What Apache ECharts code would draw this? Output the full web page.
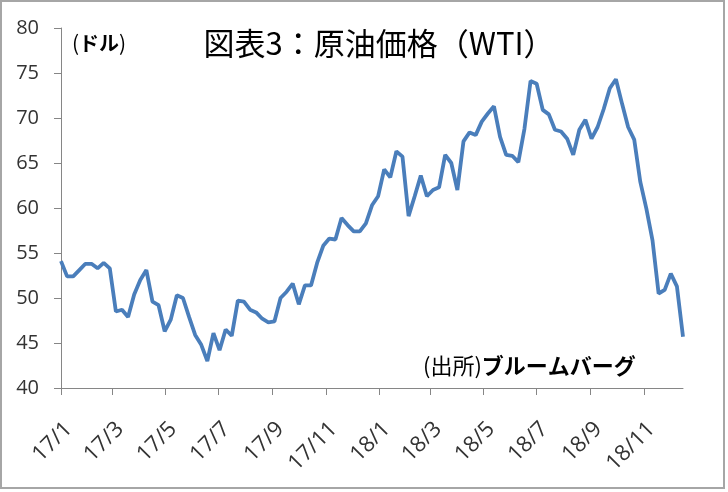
<!DOCTYPE html>
<html>
<head>
<meta charset="utf-8">
<script src="https://cdn.jsdelivr.net/npm/echarts@6/dist/echarts.min.js"></script>
<style>
html,body{margin:0;padding:0;background:#fff;}
#c{width:728px;height:492px;}
</style>
</head>
<body>
<div id="c"></div>
<script>
// Weekly dates (Fridays)
var dates = [
'2017-01-06','2017-01-13','2017-01-20','2017-01-27','2017-02-03','2017-02-10','2017-02-17','2017-02-24',
'2017-03-03','2017-03-10','2017-03-17','2017-03-24','2017-03-31','2017-04-07','2017-04-14','2017-04-21','2017-04-28',
'2017-05-05','2017-05-12','2017-05-19','2017-05-26','2017-06-02','2017-06-09','2017-06-16','2017-06-23','2017-06-30',
'2017-07-07','2017-07-14','2017-07-21','2017-07-28','2017-08-04','2017-08-11','2017-08-18','2017-08-25',
'2017-09-01','2017-09-08','2017-09-15','2017-09-22','2017-09-29','2017-10-06','2017-10-13','2017-10-20','2017-10-27',
'2017-11-03','2017-11-10','2017-11-17','2017-11-24','2017-12-01','2017-12-08','2017-12-15','2017-12-22','2017-12-29',
'2018-01-05','2018-01-12','2018-01-19','2018-01-26','2018-02-02','2018-02-09','2018-02-16','2018-02-23',
'2018-03-02','2018-03-09','2018-03-16','2018-03-23','2018-03-30','2018-04-06','2018-04-13','2018-04-20','2018-04-27',
'2018-05-04','2018-05-11','2018-05-18','2018-05-25','2018-06-01','2018-06-08','2018-06-15','2018-06-22','2018-06-29',
'2018-07-06','2018-07-13','2018-07-20','2018-07-27','2018-08-03','2018-08-10','2018-08-17','2018-08-24','2018-08-31',
'2018-09-07','2018-09-14','2018-09-21','2018-09-28','2018-10-05','2018-10-12','2018-10-19','2018-10-26',
'2018-11-02','2018-11-09','2018-11-16','2018-11-23','2018-11-30','2018-12-07','2018-12-14','2018-12-21'
];
// WTI price (USD/bbl)
var wti = [
54.1,52.4,52.4,53.1,53.8,53.8,53.3,53.9,
53.3,48.5,48.7,47.9,50.4,52.0,53.1,49.6,49.2,
46.3,47.6,50.3,50.0,47.9,45.9,44.8,43.0,46.1,
44.2,46.5,45.8,49.7,49.6,48.7,48.4,47.7,
47.3,47.4,50.0,50.7,51.6,49.3,51.4,51.4,53.9,
55.8,56.6,56.5,58.9,58.1,57.4,57.4,58.3,60.3,
61.3,64.3,63.4,66.3,65.7,59.1,61.3,63.6,
61.3,62.0,62.3,65.9,65.0,62.0,67.4,68.4,68.1,
69.6,70.5,71.3,67.9,65.9,65.8,65.1,68.8,74.1,
73.8,70.9,70.4,68.7,68.5,67.7,65.9,68.7,69.8,
67.7,69.0,71.0,73.3,74.3,71.6,69.0,67.6,
62.9,59.9,56.4,50.5,50.9,52.7,51.3,45.7
];
// x-axis ticks (every 2 months) and labels
var tickDates = ['2017-01-06','2017-03-06','2017-05-06','2017-07-06','2017-09-06','2017-11-06',
                 '2018-01-06','2018-03-06','2018-05-06','2018-07-06','2018-09-06','2018-11-06'];
var tickLabels = ['17/1','17/3','17/5','17/7','17/9','17/11','18/1','18/3','18/5','18/7','18/9','18/11'];
var yTicks = [40,45,50,55,60,65,70,75,80];

var DAY = 86400000;
function dayNum(s){ return Math.round(Date.parse(s + 'T00:00:00Z') / DAY); }
var tickDays = tickDates.map(dayNum);
var seriesData = dates.map(function(d,i){ return [dayNum(d), wti[i]]; });

var chart = echarts.init(document.getElementById('c'), null, {renderer:'canvas'});
var axisGray = '#868686';
var txt = '#333333';
var fam = "'Open Sans','Noto Sans CJK JP',sans-serif";
var cjk = "'Noto Sans CJK JP',sans-serif";
chart.setOption({
  animation:false,
  backgroundColor:'#ffffff',
  grid:{left:61, right:45, top:28, bottom:104, containLabel:false},
  xAxis:{
    type:'value',
    min: dayNum(dates[0]),
    max: dayNum(dates[dates.length-1]),
    scale:true,
    axisLine:{show:true, onZero:false, lineStyle:{color:axisGray, width:1}},
    axisTick:{show:true, length:7, lineStyle:{color:axisGray}, customValues: tickDays},
    splitLine:{show:false},
    axisLabel:{
      customValues: tickDays,
      rotate:45, margin:30, verticalAlign:'top',
      fontSize:22, color:txt, fontFamily:fam,
      formatter:function(v){
        var best=0, bd=Infinity;
        for(var i=0;i<tickDays.length;i++){var d=Math.abs(tickDays[i]-v); if(d<bd){bd=d;best=i;}}
        return tickLabels[best];
      }
    }
  },
  yAxis:{
    type:'value', min:yTicks[0], max:yTicks[yTicks.length-1], interval:5,
    axisLine:{show:true, lineStyle:{color:axisGray, width:1}},
    axisTick:{show:true, length:7, lineStyle:{color:axisGray}},
    splitLine:{show:false},
    axisLabel:{fontSize:20, color:txt, fontFamily:fam, margin:22}
  },
  series:[{
    type:'line', data:seriesData, showSymbol:false, symbol:'none',
    lineStyle:{color:'#4a7ebb', width:3.8}, itemStyle:{color:'#4a7ebb'},
    smooth:false
  }],
  graphic:[
    {type:'rect', shape:{x:1,y:1,width:723,height:487}, style:{fill:null, stroke:'#a6a6a6', lineWidth:2}, silent:true, z:100},
    {type:'text', x:379, y:43, style:{text:'図表3：原油価格（WTI）', fontSize:31, fill:'#000', fontFamily:cjk, textAlign:'center', textVerticalAlign:'middle'}},
    {type:'text', x:72, y:43, style:{
      text:'{p|(}{b|ドル}{p|)}', textAlign:'left', textVerticalAlign:'middle',
      rich:{p:{fontSize:21, fill:'#000', fontFamily:cjk}, b:{fontSize:20, fontWeight:'bold', fill:'#000', fontFamily:cjk}}
    }},
    {type:'text', x:423, y:366, style:{
      text:'{p|(出所)}{b|ブルームバーグ}', textAlign:'left', textVerticalAlign:'middle',
      rich:{p:{fontSize:22, fill:'#000', fontFamily:cjk}, b:{fontSize:22, fontWeight:'bold', fill:'#000', fontFamily:cjk}}
    }}
  ]
});
</script>
</body>
</html>
